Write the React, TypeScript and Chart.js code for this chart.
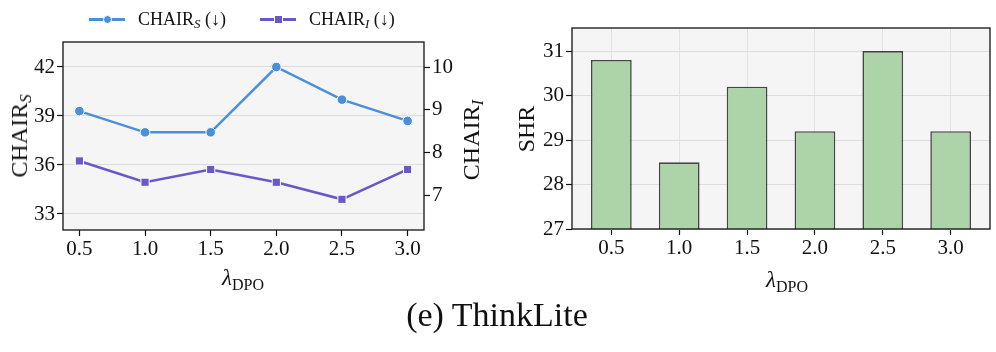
import React, { useEffect, useRef } from "react";
import { Chart, registerables } from "chart.js";
Chart.register(...registerables);

// ---- data ----
const lambdas = [0.5, 1.0, 1.5, 2.0, 2.5, 3.0];
const chairS = [39.3, 38.0, 38.0, 42.0, 40.0, 38.7];
const chairI = [7.8, 7.3, 7.6, 7.3, 6.9, 7.6];
const shr = [30.8, 28.5, 30.2, 29.2, 31.0, 29.2];
const chairSTicks = [33, 36, 39, 42];
const chairITicks = [7, 8, 9, 10];
const shrTicks = [27, 28, 29, 30, 31];

const SERIF = "'Liberation Serif', 'Times New Roman', serif";
const BLUE = "#4a8fd8";
const PURPLE = "#6a58c9";
const BAR_FILL = "#add4a9";

const framePlugin = {
  id: "frame",
  beforeDraw(chart: any) {
    const { ctx, chartArea } = chart;
    const { left, top, right, bottom } = chartArea;
    ctx.save();
    ctx.fillStyle = "#f5f5f5";
    ctx.fillRect(left, top, right - left, bottom - top);
    ctx.restore();
  },
  afterDraw(chart: any) {
    const { ctx, chartArea } = chart;
    const { left, top, right, bottom } = chartArea;
    ctx.save();
    ctx.strokeStyle = "#111";
    ctx.lineWidth = 1.3;
    ctx.strokeRect(left, top, right - left, bottom - top);
    ctx.restore();
  },
};

const tickFont = { family: SERIF, size: 21 };

function setTicks(values: number[]) {
  return (scale: any) => {
    scale.ticks = values.map((v) => ({ value: v }));
  };
}

export default function App() {
  const leftRef = useRef<HTMLCanvasElement>(null);
  const rightRef = useRef<HTMLCanvasElement>(null);

  useEffect(() => {
    const left = new Chart(leftRef.current!, {
      type: "line",
      data: {
        datasets: [
          {
            label: "CHAIR_S",
            data: lambdas.map((x, i) => ({ x, y: chairS[i] })),
            yAxisID: "yS",
            borderColor: BLUE,
            backgroundColor: BLUE,
            borderWidth: 2.5,
            pointStyle: "circle",
            pointRadius: 4.8,
            pointBorderColor: "#ffffff",
            pointBorderWidth: 1,
          },
          {
            label: "CHAIR_I",
            data: lambdas.map((x, i) => ({ x, y: chairI[i] })),
            yAxisID: "yI",
            borderColor: PURPLE,
            backgroundColor: PURPLE,
            borderWidth: 2.5,
            pointStyle: "rect",
            pointRadius: 5.8,
            pointBorderColor: "#ffffff",
            pointBorderWidth: 1,
          },
        ],
      },
      options: {
        animation: false,
        responsive: false,
        maintainAspectRatio: false,
        layout: { padding: { top: 42, left: 0, right: 0, bottom: 0 } },
        plugins: { legend: { display: false }, tooltip: { enabled: false } },
        scales: {
          x: {
            type: "linear",
            min: 0.375,
            max: 3.125,
            afterBuildTicks: setTicks(lambdas),
            afterFit: (s: any) => {
              s.height = 70;
            },
            ticks: {
              font: tickFont,
              color: "#111",
              padding: 1,
              callback: (v: any) => Number(v).toFixed(1),
            },
            grid: {
              drawOnChartArea: false,
              tickLength: 6,
              tickColor: "#111",
              tickWidth: 1.2,
            },
            border: { display: false },
          },
          yS: {
            type: "linear",
            position: "left",
            min: 32.02,
            max: 43.53,
            afterBuildTicks: setTicks(chairSTicks),
            afterFit: (s: any) => {
              s.width = 63;
            },
            ticks: { font: tickFont, color: "#111", padding: 2 },
            grid: {
              color: "#dcdcdc",
              lineWidth: 1,
              borderDash: [4, 3],
              tickBorderDash: [],
              tickLength: 6,
              tickColor: "#111",
              tickWidth: 1.2,
            },
            border: { display: false },
          },
          yI: {
            type: "linear",
            position: "right",
            min: 6.18,
            max: 10.59,
            afterBuildTicks: setTicks(chairITicks),
            afterFit: (s: any) => {
              s.width = 36;
            },
            ticks: { font: tickFont, color: "#111", padding: 2 },
            grid: {
              drawOnChartArea: false,
              tickLength: 6,
              tickColor: "#111",
              tickWidth: 1.2,
            },
            border: { display: false },
          },
        },
      } as any,
      plugins: [framePlugin],
    });

    const right = new Chart(rightRef.current!, {
      type: "bar",
      data: {
        datasets: [
          {
            label: "SHR",
            data: lambdas.map((x, i) => ({ x, y: shr[i] })),
            backgroundColor: BAR_FILL,
            borderColor: "rgba(20,20,20,0.78)",
            borderWidth: 1.6,
            barPercentage: 0.6,
            categoryPercentage: 1.0,
          },
        ],
      },
      options: {
        animation: false,
        responsive: false,
        maintainAspectRatio: false,
        layout: { padding: { top: 28, left: 0, right: 6, bottom: 0 } },
        plugins: { legend: { display: false }, tooltip: { enabled: false } },
        scales: {
          x: {
            type: "linear",
            offset: false,
            min: 0.21,
            max: 3.29,
            afterBuildTicks: setTicks(lambdas),
            afterFit: (s: any) => {
              s.height = 71;
            },
            ticks: {
              font: tickFont,
              color: "#111",
              padding: 1,
              callback: (v: any) => Number(v).toFixed(1),
            },
            grid: {
              offset: false,
              color: "#e2e2e2",
              lineWidth: 1,
              tickLength: 6,
              tickColor: "#111",
              tickWidth: 1.2,
            },
            border: { display: false },
          },
          y: {
            type: "linear",
            min: 27,
            max: 31.52,
            afterBuildTicks: setTicks(shrTicks),
            afterFit: (s: any) => {
              s.width = 72;
            },
            ticks: { font: tickFont, color: "#111", padding: 2 },
            grid: {
              color: "#dcdcdc",
              lineWidth: 1,
              borderDash: [4, 3],
              tickBorderDash: [],
              tickLength: 6,
              tickColor: "#111",
              tickWidth: 1.2,
            },
            border: { display: false },
          },
        },
      } as any,
      plugins: [framePlugin],
    });

    return () => {
      left.destroy();
      right.destroy();
    };
  }, []);

  const abs = (style: React.CSSProperties): React.CSSProperties => ({
    position: "absolute",
    fontFamily: SERIF,
    color: "#111",
    whiteSpace: "nowrap",
    lineHeight: 1,
    ...style,
  });

  const rotated = (cx: number, cy: number): React.CSSProperties =>
    abs({
      left: cx,
      top: cy,
      fontSize: 24,
      transform: "translate(-50%, -50%) rotate(-90deg)",
    });

  const legendLine = (x: number, color: string, square: boolean) => (
    <div style={{ position: "absolute", left: x, top: 18, width: 36, height: 2.5, background: color }}>
      <div
        style={{
          position: "absolute",
          left: 18 - 4.5,
          top: 1.25 - 4.5,
          width: 9,
          height: 9,
          background: color,
          borderRadius: square ? 0 : "50%",
          boxSizing: "border-box",
          border: "1px solid #fff",
        }}
      />
    </div>
  );

  const lambdaLabel = (
    <>
      <i style={{ fontSize: 23 }}>λ</i>
      <span style={{ fontSize: 16, position: "relative", top: 5 }}>DPO</span>
    </>
  );

  return (
    <div style={{ position: "fixed", left: 0, top: 0, width: 996, height: 352, background: "#fff", overflow: "hidden" }}>
      <canvas ref={leftRef} width={460} height={300} style={{ position: "absolute", left: 0, top: 0 }} />
      <canvas ref={rightRef} width={496} height={300} style={{ position: "absolute", left: 500, top: 0 }} />

      {/* legend */}
      {legendLine(89, BLUE, false)}
      <div style={abs({ left: 138, top: 10, fontSize: 18 })}>
        CHAIR<i style={{ fontSize: 13, position: "relative", top: 3 }}>S</i> (↓)
      </div>
      {legendLine(260, PURPLE, true)}
      <div style={abs({ left: 309, top: 10, fontSize: 18 })}>
        CHAIR<i style={{ fontSize: 13, position: "relative", top: 3 }}>I</i> (↓)
      </div>

      {/* y titles */}
      <div style={rotated(19, 136)}>
        CHAIR<i style={{ fontSize: 17, position: "relative", top: 4 }}>S</i>
      </div>
      <div style={rotated(471, 140)}>
        CHAIR<i style={{ fontSize: 17, position: "relative", top: 4 }}>I</i>
      </div>
      <div style={rotated(526, 129)}>SHR</div>

      {/* x titles */}
      <div style={abs({ left: 243, top: 277, transform: "translate(-50%, -50%)" })}>{lambdaLabel}</div>
      <div style={abs({ left: 787, top: 279, transform: "translate(-50%, -50%)" })}>{lambdaLabel}</div>

      {/* caption */}
      <div style={abs({ left: 497, top: 315, fontSize: 34, transform: "translate(-50%, -50%)" })}>(e) ThinkLite</div>
    </div>
  );
}
